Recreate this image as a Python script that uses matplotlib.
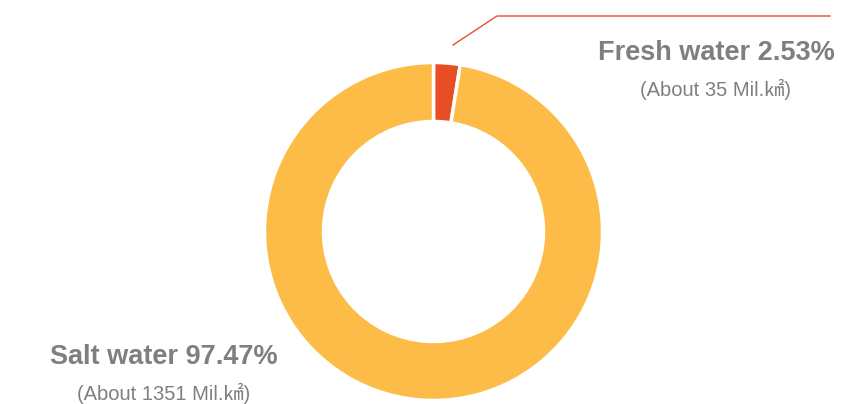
import matplotlib.pyplot as plt

# share of earth's water
labels = ['Fresh water', 'Salt water']
shares = [2.53, 97.47]
volumes = [35, 1351]
colors = ['#E84E24', '#FDBB48']

W, H = 844, 404

fig = plt.figure(figsize=(W / 100, H / 100), dpi=100)
ax = fig.add_axes([0, 0, 1, 1])

# donut, first slice starts at 12 o'clock and runs clockwise
ax.pie(shares, colors=colors, startangle=90, counterclock=False,
       center=(433.5, H - 231.5), radius=169,
       wedgeprops=dict(width=59, edgecolor='white', linewidth=2.5))

ax.set_xlim(0, W)
ax.set_ylim(0, H)
ax.set_aspect('equal')
ax.axis('off')

fam = ['Liberation Sans', 'Noto Sans CJK SC', 'DejaVu Sans']
grey = '#7F7F7F'

# leader line to the fresh water label
ax.plot([453, 497, 830], [H - 45, H - 16, H - 16], color='#E8502A', lw=1)

ax.text(716, H - 53, f'{labels[0]} {shares[0]:.2f}%', ha='center', va='center',
        fontsize=19.5, fontweight='bold', color=grey, family=fam)
ax.text(716, H - 89, f'(About {volumes[0]} Mil.\u33a2)', ha='center', va='center',
        fontsize=14.5, color=grey, family=fam)

ax.text(164, H - 357, f'{labels[1]} {shares[1]:.2f}%', ha='center', va='center',
        fontsize=19.5, fontweight='bold', color=grey, family=fam)
ax.text(164, H - 393, f'(About {volumes[1]} Mil.\u33a2)', ha='center', va='center',
        fontsize=14.5, color=grey, family=fam)

fig.savefig('out.png', dpi=100)
